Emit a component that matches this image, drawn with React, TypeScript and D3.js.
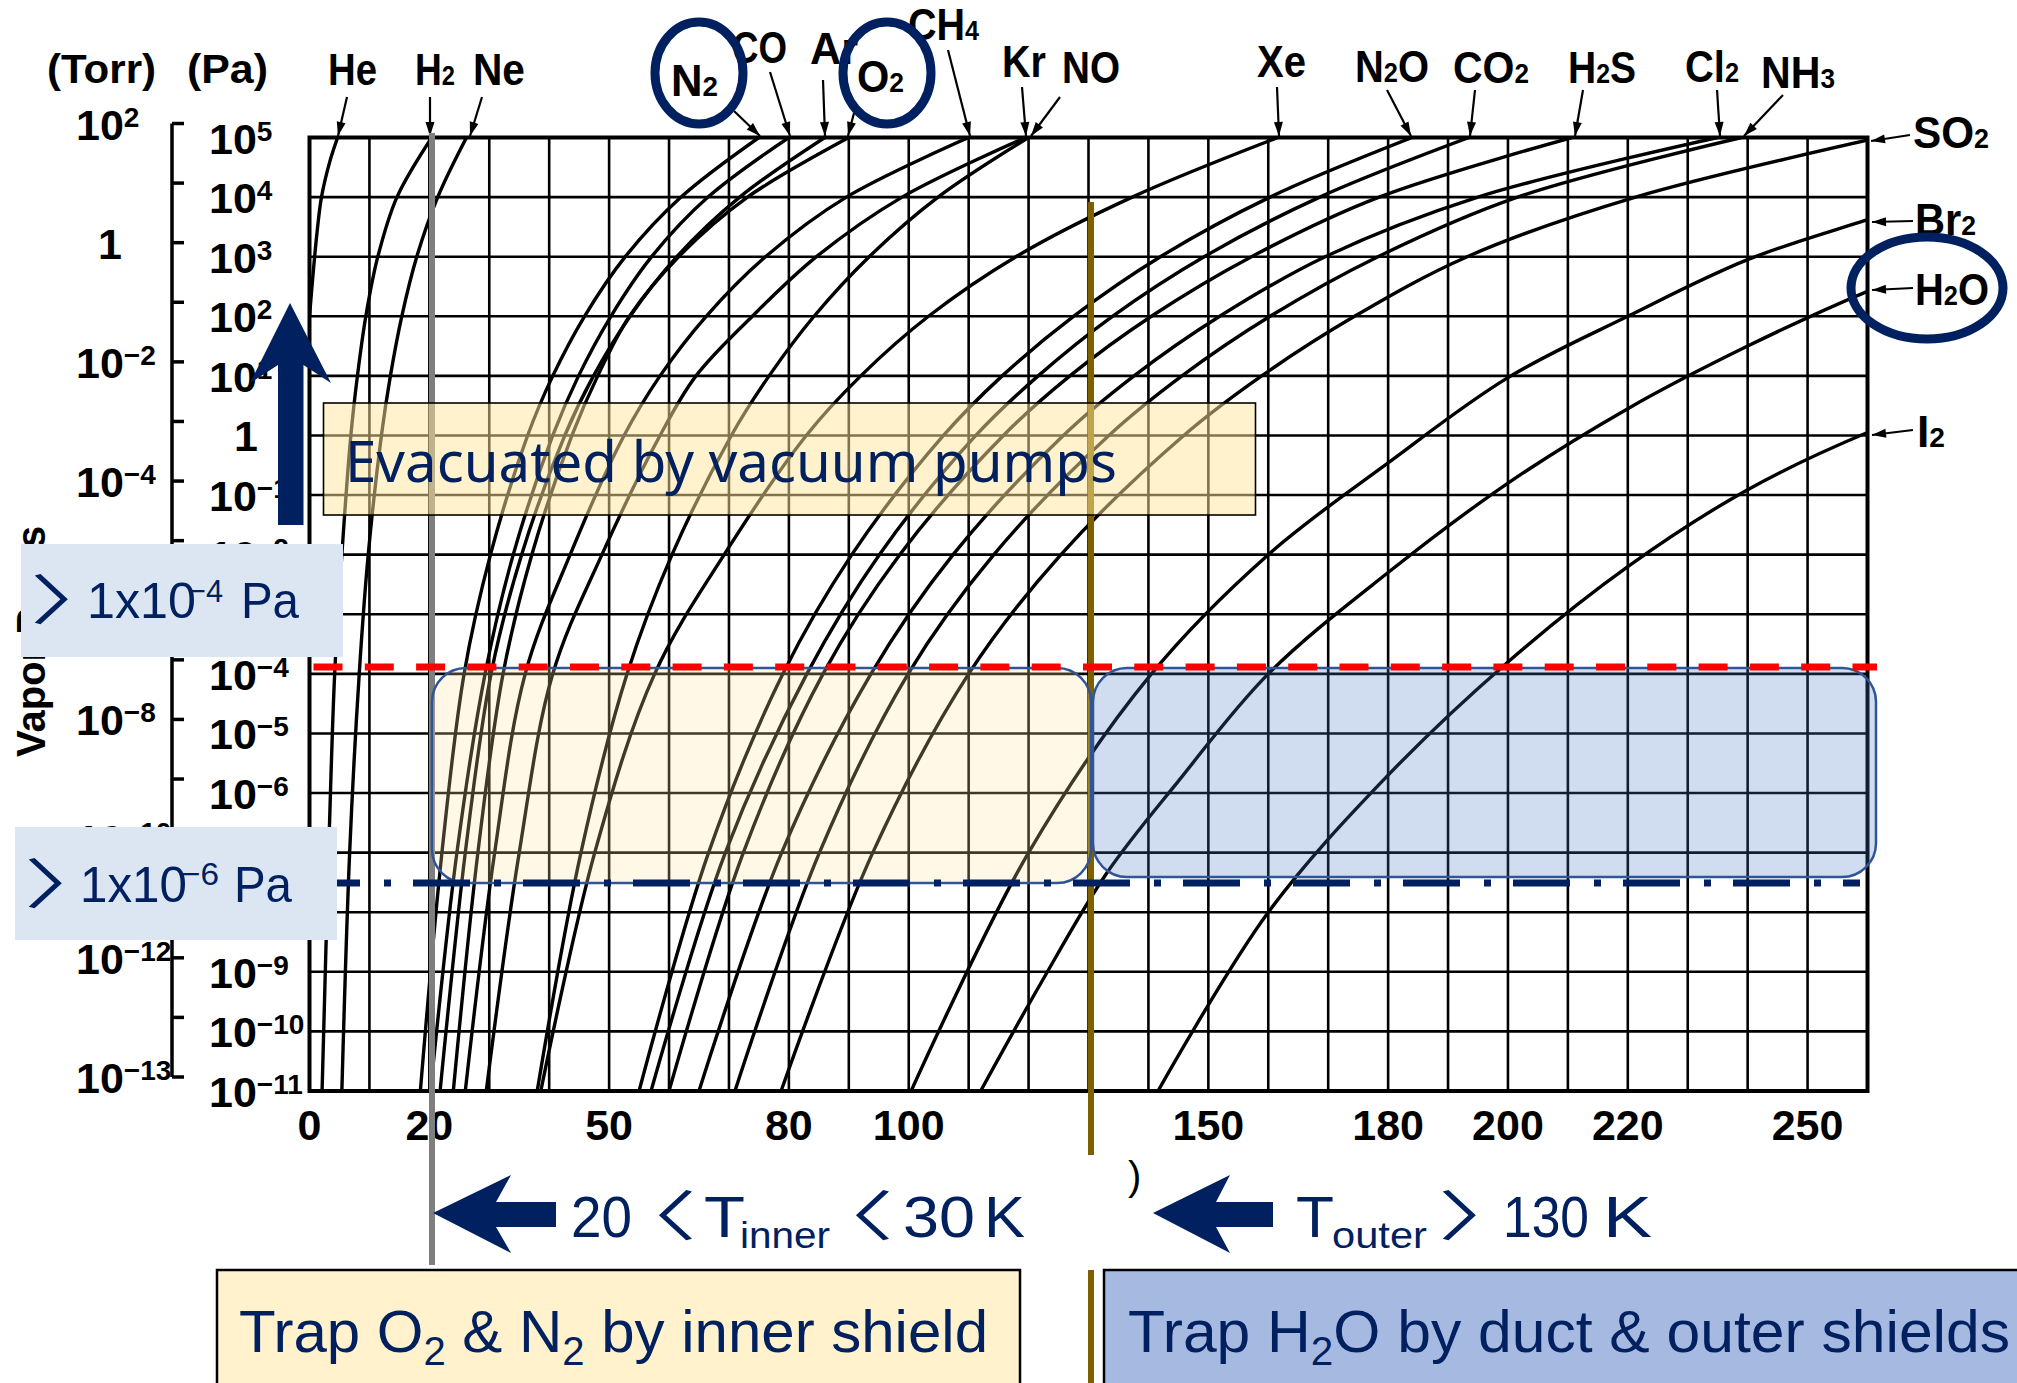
import React from 'react';
import * as d3 from 'd3';

const W = 2017;
const H = 1383;

// axes
const tempTicks = [0, 20, 50, 80, 100, 150, 180, 200, 220, 250];
const tempGrid = d3.range(0, 261, 10);
const paExp = d3.range(5, -12, -1);
const torrLabels = ['2', '0', '−2', '−4', '−6', '−8', '−10', '−12', '−13'];
const torrAtPa = [5, 3, 1, -1, -3, -5, -7, -9, -11];

// vapour pressure curves: [T (K), log10 P (Pa)]
const He = [[4.7, 5], [3.4, 4.6], [2.0, 4.0], [1.25, 3.4], [0.5, 2.6], [0.0, 2.0]];
const H2 = [[20.4, 5], [14.6, 4], [11.4, 3], [9.4, 2], [8.0, 1], [6.9, 0], [5.4, -2], [4.2, -4], [3.2, -7], [2.1, -11]];
const Ne = [[26.2, 5], [21.4, 4], [17.9, 3], [15.4, 2], [13.5, 1], [12.0, 0], [9.8, -2], [8.3, -4], [6.7, -7], [5.4, -11]];
const N2 = [[75, 5], [62, 4], [52.7, 3], [45.9, 2], [40.6, 1], [36.4, 0], [30.2, -2], [25.8, -4], [22.1, -7], [18.5, -11]];
const CO = [[80, 5], [66.5, 4], [57.1, 3], [50.3, 2], [44.9, 1], [40.6, 0], [34.0, -2], [29.3, -4], [24.6, -7], [20.2, -11]];
const Ar = [[86, 5], [71.8, 4], [61.3, 3], [53.5, 2], [47.4, 1], [42.6, 0], [35.4, -2], [30.3, -4], [26.0, -7], [21.8, -11]];
const O2 = [[90, 5], [73.1, 4], [61.6, 3], [53.4, 2], [48.1, 1], [43.8, 0], [37.1, -2], [32.3, -4], [28.1, -7], [24, -11]];
const CH4 = [[110, 5], [89.6, 4], [76.1, 3], [66.2, 2], [58.5, 1], [52.5, 0], [43.5, -2], [36, -4], [30.9, -7], [26, -11]];
const Kr = [[119.5, 5], [98.9, 4], [84.6, 3], [73.9, 2], [64.5, 1], [58.5, 0], [48.8, -2], [40.6, -4], [35.0, -7], [29.5, -11]];
const NO = [[120, 5], [104.9, 4], [93.4, 3], [84.2, 2], [76.7, 1], [70.4, 0], [60.5, -2], [53, -4], [45.3, -7], [38, -11]];
const Xe = [[161.6, 5], [137.3, 4], [117.9, 3], [103.3, 2], [92.0, 1], [82.9, 0], [69.2, -2], [57.6, -4], [47.6, -7], [38.6, -11]];
const N2O = [[184, 5], [160.3, 4], [142, 3], [127.5, 2], [115.6, 1], [105.8, 0], [90.5, -2], [79, -4], [66.6, -7], [55, -11]];
const CO2 = [[193.5, 5], [168.6, 4], [149.3, 3], [134, 2], [121.6, 1], [111.2, 0], [95.1, -2], [83, -4], [69.4, -7], [57, -11]];
const H2S = [[210.7, 5], [178.5, 4], [157.2, 3], [140.5, 2], [126.9, 1], [115.8, 0], [98.5, -2], [85.7, -4], [72.4, -7], [60, -11]];
const Cl2 = [[235, 5], [195, 4], [169.5, 3], [151.9, 2], [137.6, 1], [125.8, 0], [107.4, -2], [93.7, -4], [78.8, -7], [65, -11]];
const NH3 = [[239, 5], [201.6, 4], [178.3, 3], [160.3, 2], [145.6, 1], [133.4, 0], [114.2, -2], [99.9, -4], [85.1, -7], [71, -11]];
const SO2 = [[262, 5], [221.3, 4], [193.2, 3], [174.4, 2], [158.9, 1], [145.9, 0], [125.4, -2], [110, -4], [94, -7], [78.7, -11]];
const Br2 = [[275, 4.1], [260, 3.62], [240, 2.95], [220, 2.0], [200, 0.97], [180, -0.46], [160, -2.0], [140.5, -4], [120, -7], [100.4, -11]];
const H2O = [[275, 3], [260, 2.42], [240, 1.5], [220, 0.45], [200, -0.8], [180, -2.3], [160, -4], [145, -5.8], [133, -7.35], [122, -9.2], [112, -11]];
const I2 = [[275, 0.6], [260, 0.05], [240, -0.91], [220, -2.2], [200, -3.8], [180, -5.7], [160, -8.0], [141.6, -11]];

const curves = [He, H2, Ne, N2, CO, Ar, O2, CH4, Kr, NO, Xe, N2O, CO2, H2S, Cl2, NH3, SO2, Br2, H2O, I2];

// gas name annotations: text box, arrow tail -> tip
const gasLabels = [
  { t: 'He', x: 328, y: 85, w: 49, a: [347, 97, 338, 136] },
  { t: 'H2', x: 415, y: 85, w: 40, a: [430, 97, 430, 136] },
  { t: 'Ne', x: 473, y: 85, w: 52, a: [482, 97, 470, 136] },
  { t: 'N2', x: 671, y: 96, w: 47, a: [734, 111, 760, 136] },
  { t: 'CO', x: 732, y: 63, w: 55, a: [770, 72, 790, 136] },
  { t: 'Ar', x: 810, y: 64, w: 48, a: [823, 80, 825, 136] },
  { t: 'O2', x: 857, y: 92, w: 47, a: [854, 113, 848, 136] },
  { t: 'CH4', x: 908, y: 40, w: 71, a: [948, 50, 970, 136] },
  { t: 'Kr', x: 1002, y: 77, w: 44, a: [1022, 87, 1026, 136] },
  { t: 'NO', x: 1062, y: 83, w: 58, a: [1060, 97, 1031, 136] },
  { t: 'Xe', x: 1257, y: 77, w: 49, a: [1277, 87, 1279, 136] },
  { t: 'N2O', x: 1355, y: 82, w: 74, a: [1387, 90, 1411, 136] },
  { t: 'CO2', x: 1453, y: 83, w: 76, a: [1475, 90, 1470, 136] },
  { t: 'H2S', x: 1568, y: 83, w: 68, a: [1583, 90, 1575, 136] },
  { t: 'Cl2', x: 1685, y: 82, w: 54, a: [1717, 90, 1720, 136] },
  { t: 'NH3', x: 1761, y: 88, w: 74, a: [1783, 95, 1744, 136] },
  { t: 'SO2', x: 1913, y: 148, w: 76, a: [1910, 135, 1871, 141] },
  { t: 'Br2', x: 1915, y: 235, w: 61, a: [1913, 221, 1872, 222] },
  { t: 'H2O', x: 1915, y: 305, w: 74, a: [1913, 288, 1872, 290] },
  { t: 'I2', x: 1917, y: 447, w: 28, a: [1913, 430, 1872, 435] },
];

const SCAN = "'Liberation Sans Narrow', 'Arial Narrow', 'Liberation Sans', Arial, sans-serif";
const SANS = "'Liberation Sans', Arial, sans-serif";
const NOTO = "'Noto Sans', 'Liberation Sans', sans-serif";
const CJK = "'Noto Sans CJK JP', 'Noto Sans', sans-serif";
const NAVY = '#002060';

function chem(s: string, small: number) {
  return s.split(/(\d+)/).filter(Boolean).map((p, i) =>
    /\d/.test(p) ? <tspan key={i} fontSize={small}>{p}</tspan> : <tspan key={i}>{p}</tspan>
  );
}

function head(x0: number, y0: number, x1: number, y1: number, len = 14, half = 4.5) {
  const dx = x1 - x0, dy = y1 - y0;
  const L = Math.hypot(dx, dy);
  const ux = dx / L, uy = dy / L;
  const bx = x1 - ux * len, by = y1 - uy * len;
  return `M${x1},${y1}L${bx - uy * half},${by + ux * half}L${bx + uy * half},${by - ux * half}Z`;
}

// CJK angle bracket, cx is the anchor of its em box (glyph sits off-centre)
function Bracket({ ch, cx, base }: { ch: string; cx: number; base: number }) {
  return (
    <text transform={`translate(${cx},${base}) scale(1.7,1)`} fontFamily={CJK} fontSize={54}
      fill={NAVY} textAnchor="middle">{ch}</text>
  );
}

export default function App() {
  const x = d3.scaleLinear().domain([0, 260]).range([309.5, 1867.5]);
  const y = d3.scaleLog().domain([1e-11, 1e5]).range([1091, 137.5]);
  const ly = (l: number) => y(Math.pow(10, l));
  const line = d3.line<number[]>()
    .x(d => x(d[0]))
    .y(d => ly(d[1]))
    .curve(d3.curveCatmullRom.alpha(0.5));

  const x0 = x(0), x1 = x(260), yTop = ly(5), yBot = ly(-11);
  const redY = 667;
  const blueY = 883;
  const xInner = 432;
  const xOuter = 1091;

  return (
    <svg width={W} height={H} style={{ position: 'absolute', left: 0, top: 0 }}>
      <defs>
        <clipPath id="plot">
          <rect x={x0} y={yTop} width={x1 - x0} height={yBot - yTop} />
        </clipPath>
      </defs>
      <rect width={W} height={H} fill="#fff" />

      {/* grid */}
      <g stroke="#000" strokeWidth={2.6}>
        {tempGrid.map(t => <line key={'v' + t} x1={x(t)} x2={x(t)} y1={yTop} y2={yBot} />)}
        {paExp.map(k => <line key={'h' + k} x1={x0} x2={x1} y1={ly(k)} y2={ly(k)} />)}
      </g>
      <rect x={x0} y={yTop} width={x1 - x0} height={yBot - yTop} fill="none" stroke="#000" strokeWidth={4} />

      {/* curves */}
      <g clipPath="url(#plot)" fill="none" stroke="#000" strokeWidth={3.4}>
        {curves.map((c, i) => <path key={i} d={line(c) || ''} />)}
      </g>

      {/* Pa axis */}
      <g stroke="#000" strokeWidth={3.5}>
        <line x1={172} x2={172} y1={ly(5) - 14} y2={ly(-11) - 14} />
        {paExp.map(k => <line key={k} x1={172} x2={184} y1={ly(k) - 14} y2={ly(k) - 14} />)}
      </g>
      <g fontFamily={SCAN} fontWeight={700} fontSize={43} fill="#000">
        {paExp.map(k => k === 0
          ? <text key={k} x={234} y={ly(k) + 16}>1</text>
          : <text key={k} x={209} y={ly(k) + 16}>10<tspan fontSize={28} dy={-13}>{k < 0 ? '−' + (-k) : String(k)}</tspan></text>)}
        {torrLabels.map((s, i) => s === '0'
          ? <text key={'t' + i} x={98} y={ly(torrAtPa[i]) + 2}>1</text>
          : <text key={'t' + i} x={76} y={ly(torrAtPa[i]) + 2}>10<tspan fontSize={28} dy={-13}>{s}</tspan></text>)}
        {tempTicks.map(t => <text key={'x' + t} x={x(t)} y={1140} textAnchor="middle">{t}</text>)}
        <text x={47} y={83} fontSize={40} textLength={109} lengthAdjust="spacingAndGlyphs">(Torr)</text>
        <text x={187} y={83} fontSize={40} textLength={81} lengthAdjust="spacingAndGlyphs">(Pa)</text>
      </g>
      <text transform="translate(45,757) rotate(-90)" fontFamily={SANS} fontWeight={700} fontSize={40}>Vapor Press</text>
      <text x={1128} y={1190} fontFamily={SANS} fontSize={40}>)</text>

      {/* gas labels */}
      <g fontFamily={SCAN} fontWeight={700} fontSize={44} fill="#000">
        {gasLabels.map(g => (
          <g key={g.t}>
            <text x={g.x} y={g.y} textLength={g.w} lengthAdjust="spacingAndGlyphs">{chem(g.t, 28)}</text>
            <line x1={g.a[0]} y1={g.a[1]} x2={g.a[2]} y2={g.a[3]} stroke="#000" strokeWidth={2.2} />
            <path d={head(g.a[0], g.a[1], g.a[2], g.a[3])} fill="#000" />
          </g>
        ))}
      </g>

      {/* temperature markers */}
      <line x1={xInner} x2={xInner} y1={133} y2={1265} stroke="#7F7F7F" strokeWidth={6} />
      <line x1={xOuter} x2={xOuter} y1={202} y2={1155} stroke="#7F6000" strokeWidth={6} />
      <line x1={xOuter} x2={xOuter} y1={1270} y2={H} stroke="#7F6000" strokeWidth={6} />

      {/* pumped region */}
      <rect x={323.5} y={403} width={932} height={112} fill="#FFE699" fillOpacity={0.5} stroke="#000" strokeWidth={1.6} />
      <text x={345} y={482} fontFamily={NOTO} fontSize={56} fill={NAVY} textLength={772} lengthAdjust="spacingAndGlyphs">Evacuated by vacuum pumps</text>

      {/* trapping windows */}
      <rect x={xInner} y={redY + 1} width={xOuter - xInner} height={blueY - redY - 1} rx={34}
        fill="#FFE3A0" fillOpacity={0.25} stroke="#2F5597" strokeWidth={2.5} />
      <rect x={xOuter + 2} y={redY + 1} width={1876 - xOuter - 2} height={877 - redY - 1} rx={34}
        fill="#4472C4" fillOpacity={0.25} stroke="#2F5597" strokeWidth={2.5} />

      <line x1={313.5} x2={1877} y1={redY} y2={redY} stroke="#FF0000" strokeWidth={7} strokeDasharray="29 22.3" />
      <line x1={303} x2={1860} y1={blueY} y2={blueY} stroke={NAVY} strokeWidth={7} strokeDasharray="57 24 7 22" />

      {/* up arrow */}
      <path d="M290,303 L331,383 L303.5,365 L303.5,525 L278,525 L278,365 L250,383 Z" fill={NAVY} />

      {/* pressure boxes */}
      <rect x={21} y={544} width={322} height={113} fill="#DCE6F2" />
      <Bracket ch="〉" cx={76} base={620} />
      <g fontFamily={SCAN} fill={NAVY}>
        <text x={87} y={618} fontSize={50} textLength={109} lengthAdjust="spacingAndGlyphs">1x10</text>
        <text x={188} y={602} fontSize={32} textLength={35} lengthAdjust="spacingAndGlyphs">−4</text>
        <text x={241} y={618} fontSize={50} textLength={58} lengthAdjust="spacingAndGlyphs">Pa</text>
      </g>
      <rect x={15} y={827} width={322} height={113} fill="#DCE6F2" />
      <Bracket ch="〉" cx={70} base={904} />
      <g fontFamily={SCAN} fill={NAVY}>
        <text x={80} y={902} fontSize={50} textLength={107} lengthAdjust="spacingAndGlyphs">1x10</text>
        <text x={181} y={885} fontSize={32} textLength={38} lengthAdjust="spacingAndGlyphs">−6</text>
        <text x={234} y={902} fontSize={50} textLength={58} lengthAdjust="spacingAndGlyphs">Pa</text>
      </g>

      {/* shield temperatures */}
      <path d="M433,1213 L511,1175 L496,1202 L556,1202 L556,1227 L496,1227 L511,1253 Z" fill={NAVY} />
      <path d="M1153,1213 L1230,1175 L1216,1202 L1273,1202 L1273,1227 L1216,1227 L1230,1253 Z" fill={NAVY} />
      <g fontFamily={SCAN} fill={NAVY} fontSize={58}>
        <text x={571} y={1237} textLength={61} lengthAdjust="spacingAndGlyphs">20</text>
        <text x={704} y={1237} textLength={41} lengthAdjust="spacingAndGlyphs">T</text>
        <text x={740} y={1248} fontSize={36} textLength={90} lengthAdjust="spacingAndGlyphs">inner</text>
        <text x={903} y={1237} textLength={72} lengthAdjust="spacingAndGlyphs">30</text>
        <text x={984} y={1237} textLength={41} lengthAdjust="spacingAndGlyphs">K</text>
        <text x={1296} y={1237} textLength={38} lengthAdjust="spacingAndGlyphs">T</text>
        <text x={1332} y={1248} fontSize={36} textLength={95} lengthAdjust="spacingAndGlyphs">outer</text>
        <text x={1503} y={1237} textLength={86} lengthAdjust="spacingAndGlyphs">130</text>
        <text x={1603} y={1237} textLength={49} lengthAdjust="spacingAndGlyphs">K</text>
      </g>
      <Bracket ch="〈" cx={651} base={1236} />
      <Bracket ch="〈" cx={848} base={1236} />
      <Bracket ch="〉" cx={1484} base={1236} />

      {/* bottom captions */}
      <rect x={217} y={1270} width={803} height={140} fill="#FFF2CC" stroke="#000" strokeWidth={2.5} />
      <rect x={1104} y={1270} width={940} height={140} fill="#A6B9E1" stroke="#000" strokeWidth={2.5} />
      <g fontFamily={SCAN} fill={NAVY} fontSize={60}>
        <text x={239} y={1352} textLength={749} lengthAdjust="spacingAndGlyphs">
          Trap O<tspan fontSize={40} dy={13}>2</tspan><tspan dy={-13}> &amp; N</tspan><tspan fontSize={40} dy={13}>2</tspan><tspan dy={-13}> by inner shield</tspan>
        </text>
        <text x={1128} y={1352} textLength={882} lengthAdjust="spacingAndGlyphs">
          Trap H<tspan fontSize={40} dy={13}>2</tspan><tspan dy={-13}>O by duct &amp; outer shields</tspan>
        </text>
      </g>

      {/* highlight rings */}
      <g fill="none" stroke={NAVY} strokeWidth={9}>
        <ellipse cx={699} cy={73} rx={44} ry={51} />
        <ellipse cx={887} cy={73} rx={44} ry={51} />
        <ellipse cx={1927} cy={288} rx={76} ry={51} />
      </g>
    </svg>
  );
}
